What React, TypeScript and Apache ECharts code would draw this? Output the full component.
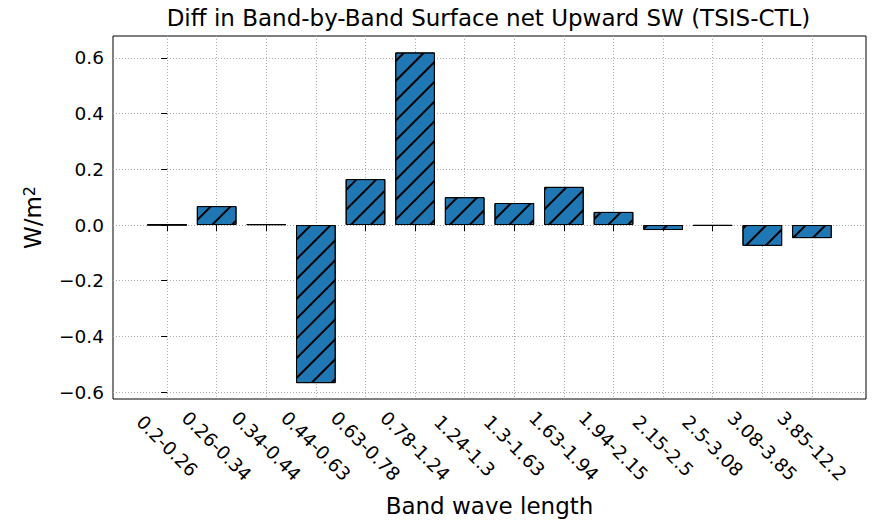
import React, { useEffect, useRef } from "react";
import * as echarts from "echarts";

const categories = [
  "0.2-0.26", "0.26-0.34", "0.34-0.44", "0.44-0.63", "0.63-0.78", "0.78-1.24", "1.24-1.3",
  "1.3-1.63", "1.63-1.94", "1.94-2.15", "2.15-2.5", "2.5-3.08", "3.08-3.85", "3.85-12.2",
];
const diffValues = [
  0.001, 0.068, 0.003, -0.568, 0.165, 0.62, 0.1, 0.079, 0.137, 0.047, -0.018, -0.003, -0.075, -0.047,
];
const yTicks = [-0.6, -0.4, -0.2, 0.0, 0.2, 0.4, 0.6];

const TITLE = "Diff in Band-by-Band Surface net Upward SW (TSIS-CTL)";
const X_NAME = "Band wave length";

export default function App() {
  const ref = useRef<HTMLDivElement>(null);
  useEffect(() => {
    if (!ref.current) return;
    const chart = echarts.init(ref.current, null, { renderer: "svg" });
    const gridLeft = 113;
    const gridRight = 866;
    const xMin = -1.09;
    const xMax = categories.length - 1 + 1.09;
    const pxPerUnit = (gridRight - gridLeft) / (xMax - xMin);
    const font = "DejaVu Sans";
    chart.setOption({
      animation: false,
      backgroundColor: "#ffffff",
      textStyle: { fontFamily: font },
      grid: {
        left: gridLeft,
        right: 875 - gridRight,
        top: 36,
        bottom: 522 - 399,
        show: true,
        borderColor: "#000",
        borderWidth: 1,
        backgroundColor: "transparent",
      },
      graphic: [
        {
          type: "text",
          x: 488.5,
          y: 18,
          style: {
            text: TITLE,
            fontFamily: font,
            fontSize: 23,
            fill: "#000",
            textAlign: "center",
            textVerticalAlign: "middle",
          },
        },
      ],
      xAxis: {
        type: "value",
        min: xMin,
        max: xMax,
        name: X_NAME,
        nameLocation: "middle",
        nameGap: 95,
        nameTextStyle: { fontFamily: font, fontSize: 23, color: "#000", verticalAlign: "top" },
        axisLine: { show: false },
        axisTick: {
          show: true,
          length: 6,
          lineStyle: { color: "#000", width: 1 },
          customValues: categories.map((_, i) => i),
        },
        axisLabel: {
          customValues: categories.map((_, i) => i),
          formatter: (v: number) => categories[Math.round(v)] ?? "",
          rotate: -45,
          align: "center",
          verticalAlign: "middle",
          margin: 47,
          fontFamily: font,
          fontSize: 18.5,
          color: "#000",
        },
        splitLine: {
          show: true,
          lineStyle: { type: [1, 2], color: "#aaaaaa", width: 1 },
        },
      },
      yAxis: {
        type: "value",
        min: -0.625,
        max: 0.679,
        name: "{a|W/m}{b|2}",
        nameLocation: "middle",
        nameRotate: 90,
        nameGap: 69,
        nameTextStyle: {
          fontFamily: font,
          color: "#000",
          rich: {
            a: { fontFamily: font, fontSize: 23, color: "#000", verticalAlign: "bottom" },
            b: { fontFamily: font, fontSize: 16, color: "#000", verticalAlign: "top", lineHeight: 16 },
          },
        },
        axisLine: { show: false },
        axisTick: {
          show: true,
          length: 6,
          lineStyle: { color: "#000", width: 1 },
          customValues: yTicks,
        },
        axisLabel: {
          customValues: yTicks,
          formatter: (v: number) => (v < 0 ? "\u2212" + Math.abs(v).toFixed(1) : v.toFixed(1)),
          margin: 9,
          fontFamily: font,
          fontSize: 18.5,
          color: "#000",
        },
        splitLine: {
          show: true,
          lineStyle: { type: [1, 2], color: "#aaaaaa", width: 1 },
        },
      },
      series: [
        {
          type: "bar",
          barWidth: 0.8 * pxPerUnit,
          data: diffValues.map((v, i) => [i, v]),
          itemStyle: {
            color: "#1f77b4",
            borderColor: "#000",
            borderWidth: 1,
            decal: {
              symbol: "rect",
              symbolSize: 1,
              dashArrayX: [1, 0],
              dashArrayY: [1.2, 12],
              rotation: -Math.PI / 4,
              color: "#000",
            },
          },
          emphasis: { disabled: true },
        },
      ],
    });
    return () => chart.dispose();
  }, []);
  return (
    <div
      ref={ref}
      style={{ position: "fixed", left: 0, top: 0, width: 875, height: 522 }}
    />
  );
}
